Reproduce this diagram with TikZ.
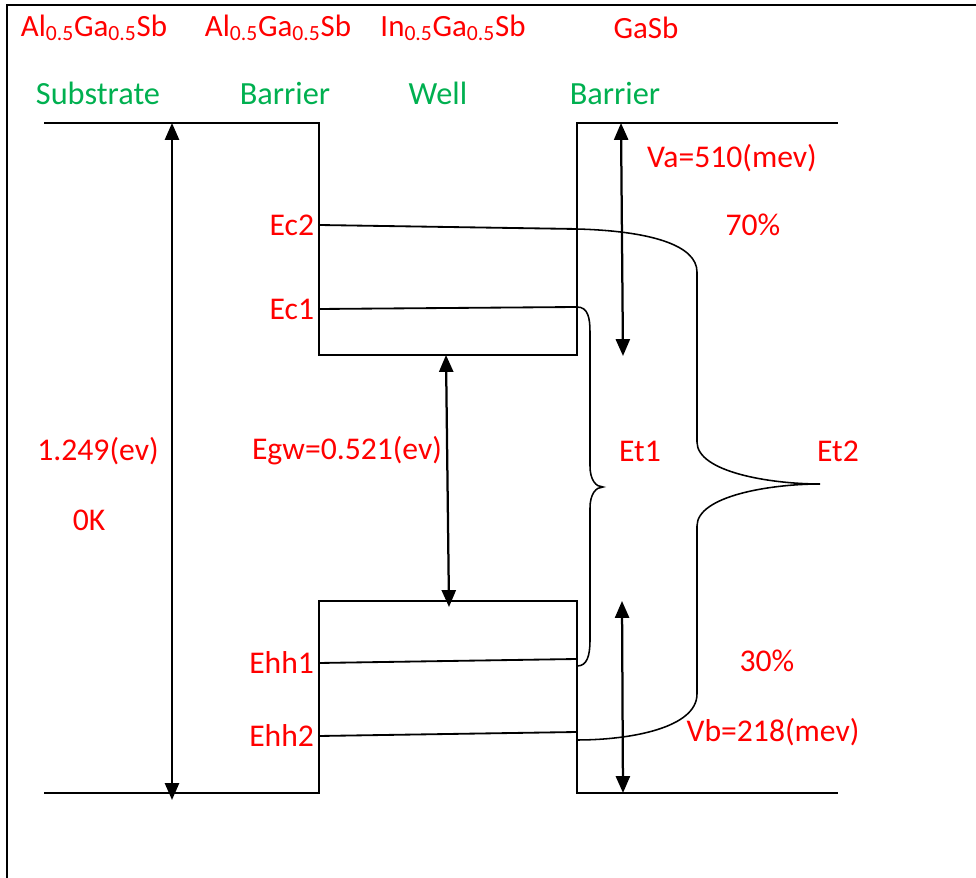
\documentclass[tikz,border=0pt]{standalone}
\usepackage{fontspec}
\setmainfont{Carlito}
\usetikzlibrary{
  arrows.meta,
  positioning,
  calc
}
\definecolor{labelred}{RGB}{255,0,0}
\definecolor{layergreen}{RGB}{0,176,80}

\begin{document}
\begin{tikzpicture}[x=0.025cm, y=-0.025cm,
            frame/.style={draw=black, line width=2pt},
            band/.style={draw=black, line width=1.6pt},
            level/.style={draw=black, line width=1.3pt},
            brace/.style={draw=black, line width=1.1pt},
            gap/.style={line width=1.6pt, {Triangle[length=12pt,width=10pt]}-{Triangle[length=12pt,width=10pt]}},
            matlabel/.style={text=labelred, font=\fontsize{22}{26}\selectfont},
            layerlabel/.style={text=layergreen, font=\fontsize{23}{27}\selectfont},
            vallabel/.style={text=labelred, font=\fontsize{22.5}{26}\selectfont}]
            \useasboundingbox (0,0) rectangle (976,878);
            % outer frame (top and left only)
            \draw [frame] (976,5) -- (7,5) -- (7,878);
            % material and layer names
            \node [matlabel] (mat1) at (94,28) {Al\textsubscript{0.5}Ga\textsubscript{0.5}Sb};
            \node [matlabel] (mat2) at (278,28) {Al\textsubscript{0.5}Ga\textsubscript{0.5}Sb};
            \node [matlabel] (mat3) at (453,28) {In\textsubscript{0.5}Ga\textsubscript{0.5}Sb};
            \node [matlabel] (mat4) at (646,28) {GaSb};
            \node [layerlabel] (sub) at (98,93) {Substrate};
            \node [layerlabel] (bar1) at (285,93) {Barrier};
            \node [layerlabel] (well) at (438,93) {Well};
            \node [layerlabel] (bar2) at (615,93) {Barrier};
            % band edges
            \coordinate (cbl) at (44,123);
            \coordinate (cbw1) at (319,123);
            \coordinate (cbw2) at (319,355);
            \coordinate (cbw3) at (577,355);
            \coordinate (cbw4) at (577,123);
            \coordinate (cbr) at (838,123);
            \coordinate (vbl) at (44,793);
            \coordinate (vbw1) at (319,793);
            \coordinate (vbw2) at (319,601);
            \coordinate (vbw3) at (577,601);
            \coordinate (vbw4) at (577,793);
            \coordinate (vbr) at (838,793);
            \draw [band] (cbl) -- (cbw1) -- (cbw2) -- (cbw3) -- (cbw4) -- (cbr);
            \draw [band] (vbl) -- (vbw1) -- (vbw2) -- (vbw3) -- (vbw4) -- (vbr);
            % quantized levels
            \coordinate (ec2a) at (319,225);
            \coordinate (ec2b) at (577,229);
            \coordinate (ec1a) at (319,309);
            \coordinate (ec1b) at (577,307);
            \coordinate (hh1a) at (319,663);
            \coordinate (hh1b) at (577,659);
            \coordinate (hh2a) at (319,736);
            \coordinate (hh2b) at (577,732);
            \draw [level] (ec2a) -- (ec2b);
            \draw [level] (ec1a) -- (ec1b);
            \draw [level] (hh1a) -- (hh1b);
            \draw [level] (hh2a) -- (hh2b);
            \node [vallabel, anchor=east] (ec2) at (ec2a) {Ec2};
            \node [vallabel, anchor=east] (ec1) at (ec1a) {Ec1};
            \node [vallabel, anchor=east] (hh1) at (hh1a) {Ehh1};
            \node [vallabel, anchor=east] (hh2) at (hh2a) {Ehh2};
            % braces
            \coordinate (et1tip) at (603,487);
            \coordinate (et2tip) at (820,484);
            \draw [brace] (ec1b) .. controls (588,307) and (590,318) .. (590,332) -- (590,466)
              .. controls (590,480) and (596,487) .. (et1tip)
              .. controls (596,487) and (590,494) .. (590,508) -- (590,640)
              .. controls (590,656) and (587,666) .. (577,666);
            \draw [brace] (ec2b) .. controls (650,231) and (697,245) .. (697,272) -- (697,442)
              .. controls (697,472) and (770,484) .. (et2tip)
              .. controls (770,484) and (697,496) .. (697,526) -- (697,694)
              .. controls (697,728) and (630,740) .. (577,740);
            % gap arrows
            \coordinate (egtop) at (172,123);
            \coordinate (egbot) at (172,800);
            \coordinate (gwtop) at (446,355);
            \coordinate (gwbot) at (449,607);
            \coordinate (vatop) at (621,123);
            \coordinate (vabot) at (623,356);
            \coordinate (vbtop) at (622,601);
            \coordinate (vbbot) at (623,793);
            \draw [gap] (egtop) -- (egbot);
            \draw [gap] (gwtop) -- (gwbot);
            \draw [gap] (vatop) -- (vabot);
            \draw [gap] (vbtop) -- (vbbot);
            % values
            \node [vallabel] (eg) at (98,451) {1.249(ev)};
            \node [vallabel] (temp) at (89,520) {0K};
            \node [vallabel] (egw) at (347,451) {Egw=0.521(ev)};
            \node [vallabel] (va) at (732,158) {Va=510(mev)};
            \node [vallabel] (p70) at (753,225) {70\%};
            \node [vallabel] (et1) at (640,451) {Et1};
            \node [vallabel] (et2) at (838,451) {Et2};
            \node [vallabel] (p30) at (767,661) {30\%};
            \node [vallabel] (vb) at (773,732) {Vb=218(mev)};
        \end{tikzpicture}
\end{document}
